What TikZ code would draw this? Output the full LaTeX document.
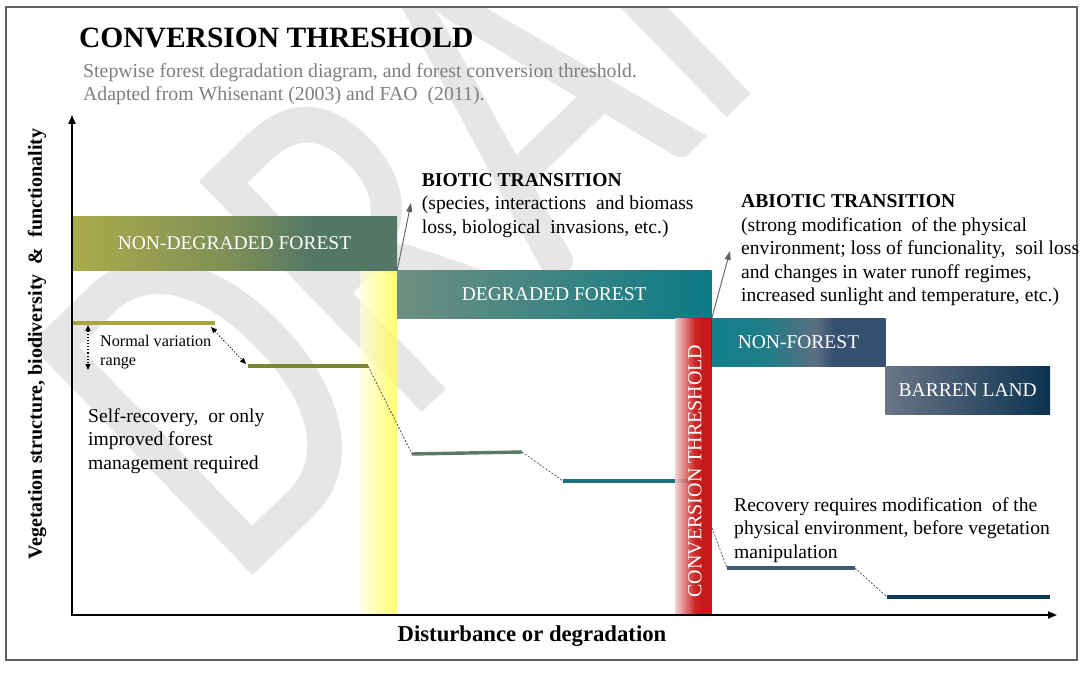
\documentclass[tikz,border=0pt]{standalone}
\usepackage{fontspec}
\setmainfont{Liberation Serif}
\newfontfamily\markfont{Carlito}
\usetikzlibrary{arrows.meta}

\definecolor{framegray}{HTML}{5F5F5F}
\definecolor{subgray}{HTML}{7F7F7F}
\definecolor{markgray}{HTML}{E6E6E6}
\definecolor{ndfA}{HTML}{ABAC4A}
\definecolor{ndfB}{HTML}{7D8E57}
\definecolor{ndfC}{HTML}{527766}
\definecolor{dfA}{HTML}{6F8F80}
\definecolor{dfC}{HTML}{0B7A86}
\definecolor{nfA}{HTML}{12808A}
\definecolor{nfB}{HTML}{5B6E82}
\definecolor{nfC}{HTML}{354F6E}
\definecolor{blA}{HTML}{6B7586}
\definecolor{blC}{HTML}{0B3250}
\definecolor{yelA}{HTML}{FFFFDE}
\definecolor{yelC}{HTML}{FFFF40}
\definecolor{redA}{HTML}{F2CECE}
\definecolor{redB}{HTML}{C61010}
\definecolor{redC}{HTML}{C00000}
\definecolor{stepA}{HTML}{A6A83A}
\definecolor{stepB}{HTML}{7D8632}
\definecolor{stepC}{HTML}{5A7A68}
\definecolor{stepD}{HTML}{23717F}
\definecolor{stepE}{HTML}{3E5A7A}
\definecolor{stepF}{HTML}{0E3A55}
\definecolor{leadgray}{HTML}{606060}

% colour runs of the stage bars (inner 25bp--75bp span the bar)
\pgfdeclarehorizontalshading{ndfshade}{100bp}{color(0bp)=(ndfA); color(25bp)=(ndfA); color(50bp)=(ndfB); color(62bp)=(ndfC); color(100bp)=(ndfC)}
\pgfdeclarehorizontalshading{dfshade}{100bp}{color(0bp)=(dfA); color(25bp)=(dfA); color(75bp)=(dfC); color(100bp)=(dfC)}
\pgfdeclarehorizontalshading{nfshade}{100bp}{color(0bp)=(nfA); color(25bp)=(nfA); color(40bp)=(nfA!85!nfB); color(55bp)=(nfB); color(60bp)=(nfC); color(100bp)=(nfC)}
\pgfdeclarehorizontalshading{blshade}{100bp}{color(0bp)=(blA); color(25bp)=(blA); color(75bp)=(blC); color(100bp)=(blC)}
\pgfdeclarehorizontalshading{yelshade}{100bp}{color(0bp)=(yelA); color(25bp)=(yelA); color(75bp)=(yelC); color(100bp)=(yelC)}
\pgfdeclarehorizontalshading{redshade}{100bp}{color(0bp)=(redA); color(25bp)=(redA); color(52bp)=(redB); color(62bp)=(redC); color(100bp)=(redC)}

\begin{document}
\begin{tikzpicture}[x=1pt,y=-1pt,
  txt/.style={font=\fontsize{19.6}{23.5}\selectfont, inner sep=0pt, align=left, anchor=north west},
  boxlbl/.style={inner sep=0pt, text=white, font=\fontsize{19.5}{20}\selectfont},
  stage/.style={boxlbl, shade},
  stepline/.style={line width=3.4pt},
  lead/.style={draw=leadgray, line width=0.9pt, -{Triangle[length=9pt,width=6pt]}},
  dashlink/.style={draw=black!70, line width=0.7pt, dash pattern=on 2pt off 1.6pt},
  axisline/.style={line width=1.8pt, {Triangle[length=9pt,width=7pt]}-{Triangle[length=9pt,width=7pt]}},
  dotarrow/.style={line width=1.1pt, dotted, {Triangle[length=6pt,width=5pt]}-{Triangle[length=6pt,width=5pt]}}
]
\useasboundingbox (0,0) rectangle (1082,698);
\fill[white] (0,0) rectangle (1082,698);

% watermark
\begin{scope}
\clip (6,7) rectangle (1077,660);
\node[rotate=44, xscale=0.76, text=markgray, font=\markfont\fontsize{500}{500}\selectfont, anchor=base west, inner sep=0pt] (mark) at (234,594) {DRAFT};
\end{scope}

% frame
\draw[framegray, line width=2pt] (6,7) rectangle (1077,660);

% title block
\node[anchor=west, inner sep=0pt, font=\bfseries\fontsize{29.5}{29.5}\selectfont] (title) at (79,38) {CONVERSION THRESHOLD};
\node[txt, text=subgray, font=\fontsize{19.8}{23}\selectfont] (sub) at (83,63) {Stepwise forest degradation diagram, and forest conversion threshold.\\Adapted from Whisenant (2003) and FAO \ (2011).};

% biotic threshold band
\shade[shading=yelshade, opacity=0.75] (360,270) rectangle (397,615);

% stages
\node[stage, shading=ndfshade, minimum width=325pt, minimum height=53.5pt] (ndf) at (234.5,243.25) {NON-DEGRADED FOREST};
\node[stage, shading=dfshade, minimum width=314.5pt, minimum height=48.3pt] (df) at (554.25,294.15) {DEGRADED FOREST};
\node[stage, shading=nfshade, minimum width=174pt, minimum height=48.4pt] (nf) at (798.5,342.5) {NON-FOREST};
\node[stage, shading=blshade, minimum width=164.5pt, minimum height=47.6pt] (bl) at (967.75,390.5) {BARREN LAND};

% step profile
\coordinate (s1a) at (72,323);   \coordinate (s1b) at (215,323);
\coordinate (s2a) at (248,366);  \coordinate (s2b) at (368,366);
\coordinate (s3a) at (412,454);  \coordinate (s3b) at (522,452);
\coordinate (s4a) at (563,481);  \coordinate (s4b) at (695,481);
\coordinate (s5a) at (727,568);  \coordinate (s5b) at (855,568);
\coordinate (s6a) at (887,597);  \coordinate (s6b) at (1050,597);
\draw[stepline, stepA] (s1a) -- (s1b);
\draw[stepline, stepB] (s2a) -- (s2b);
\draw[stepline, stepC] (s3a) -- (s3b);
\draw[stepline, stepD] (s4a) -- (s4b);
\draw[stepline, stepE] (s5a) -- (s5b);
\draw[stepline, stepF] (s6a) -- (s6b);

% conversion threshold band
\node[stage, shading=redshade, minimum width=36.5pt, minimum height=296.7pt, opacity=0.9, text opacity=1] (ct) at (693.25,466.65) {};
\node[rotate=90, text=white, inner sep=0pt, font=\fontsize{20}{20}\selectfont] (ctlbl) at (695,471) {CONVERSION THRESHOLD};

% links between steps
\coordinate (d5) at (712,528);
\draw[dashlink] (s2b) -- (s3a);
\draw[dashlink] (s3b) -- (s4a);
\draw[dashlink] (d5) -- (s5a);
\draw[dashlink] (s5b) -- (s6a);
\coordinate (n1) at (211,327); \coordinate (n2) at (246,364);
\draw[dotarrow, line width=0.8pt] (n1) -- (n2);
\coordinate (v1) at (88,325); \coordinate (v2) at (88,370);
\draw[dotarrow] (v1) -- (v2);

% transitions
\coordinate (bt) at (411,203);
\coordinate (at) at (730,251);
\draw[lead] (ndf.south east) -- (bt);
\draw[lead] (df.south east) -- (at);

% axes
\coordinate (origin) at (72,615);
\coordinate (ytop) at (72,115);
\coordinate (xend) at (1057,615);
\draw[axisline] (ytop) -- (origin) -- (xend);
\node[rotate=90, inner sep=0pt, font=\bfseries\fontsize{20}{20}\selectfont] (ylabel) at (37,344) {Vegetation structure, biodiversity \ \& \ functionality};
\node[inner sep=0pt, font=\bfseries\fontsize{22.7}{22.7}\selectfont] (xlabel) at (532,636) {Disturbance or degradation};

% annotations
\node[txt] (biotic) at (421.7,173) {\textbf{BIOTIC TRANSITION}\\(species, interactions \ and biomass\\loss, biological \ invasions, etc.)};
\node[txt] (abiotic) at (741,194.7) {\textbf{ABIOTIC TRANSITION}\\(strong modification \ of the physical\\environment; loss of funcionality, \ soil loss\\and changes in water runoff regimes,\\increased sunlight and temperature, etc.)};
\node[txt] (selfrec) at (88,408) {Self-recovery, \ or only\\improved forest\\management required};
\node[txt, font=\fontsize{16.2}{19}\selectfont] (normal) at (100,335) {Normal variation\\range};
\node[txt] (recov) at (734,497) {Recovery requires modification \ of the\\physical environment, before vegetation\\manipulation};
\end{tikzpicture}
\end{document}
